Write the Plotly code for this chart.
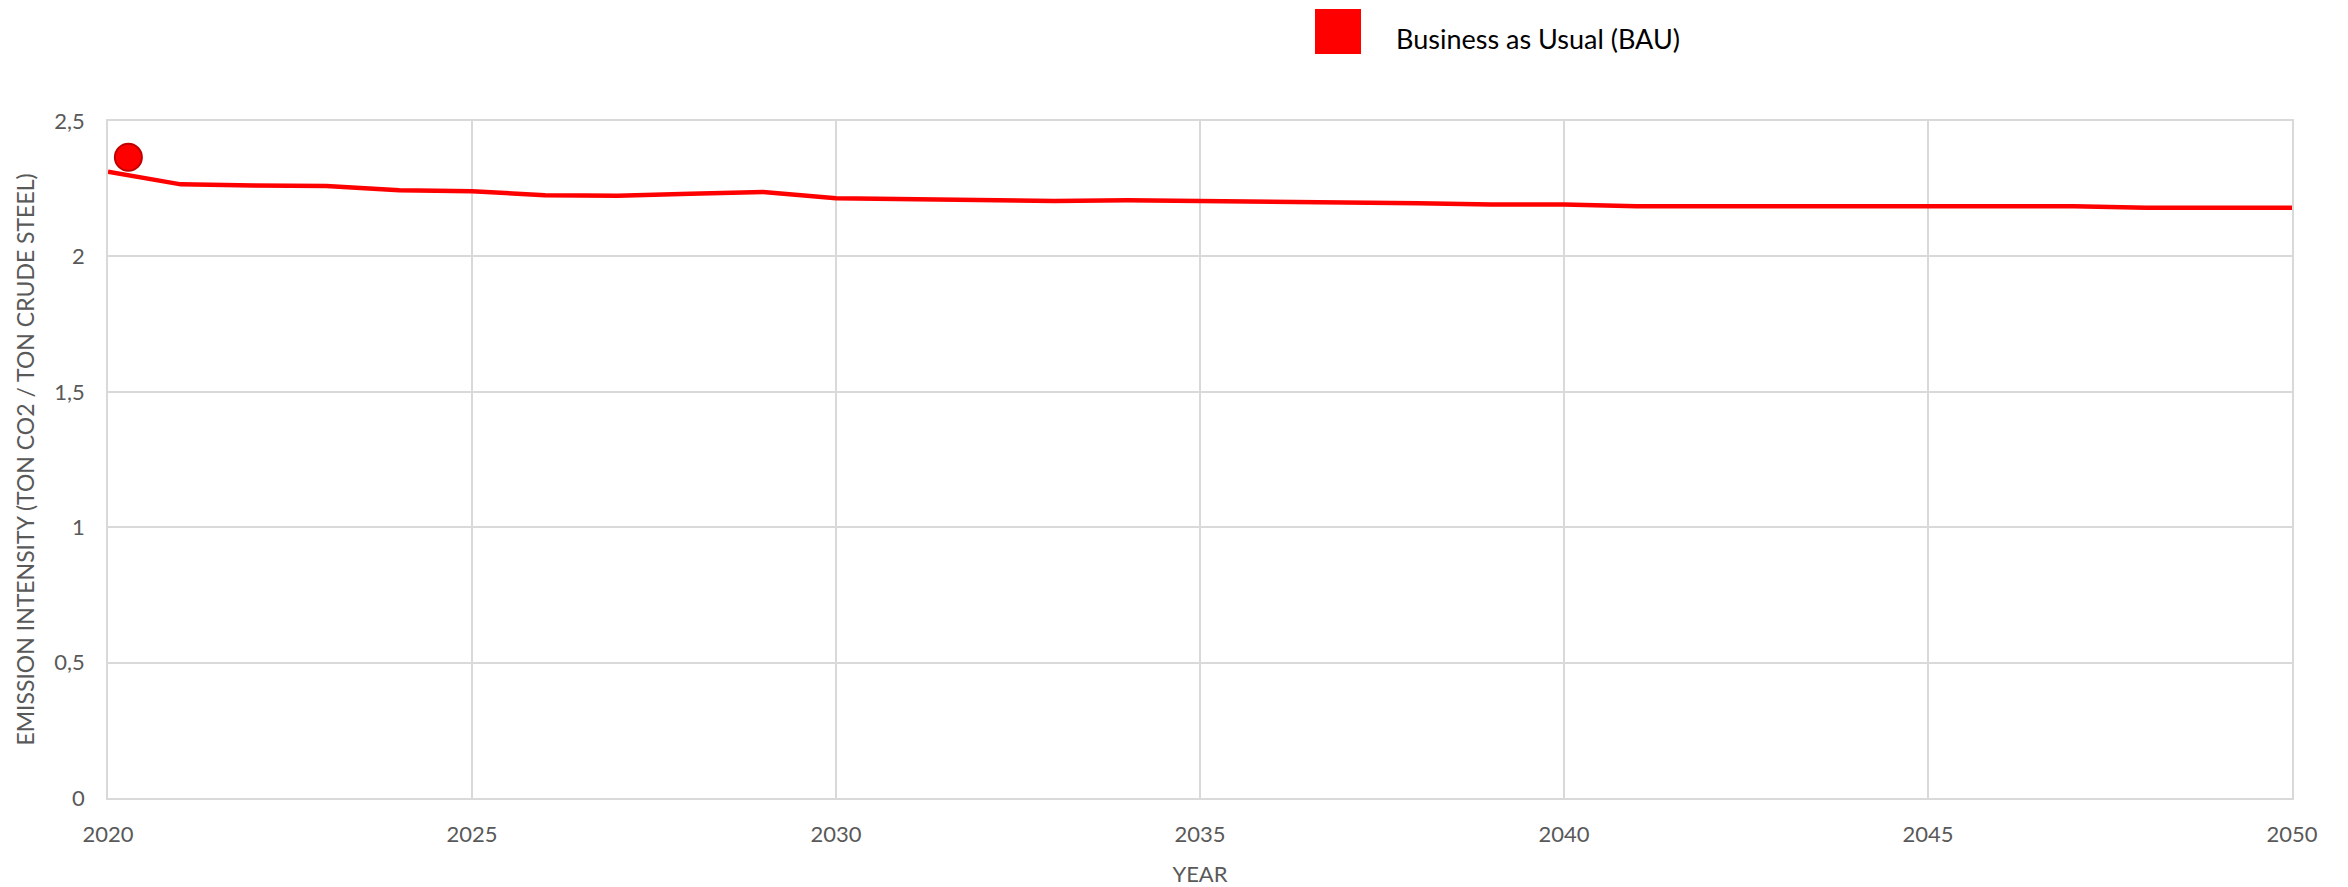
import plotly.graph_objects as go

years = list(range(2020, 2051))
bau = [2.313, 2.266, 2.262, 2.260, 2.244, 2.241, 2.226, 2.224, 2.231, 2.238,
       2.215, 2.211, 2.205, 2.205, 2.207, 2.205, 2.202, 2.199, 2.196, 2.192,
       2.192, 2.185, 2.185, 2.185, 2.185, 2.185, 2.185, 2.185, 2.180, 2.180, 2.180]
point_x = [2020.28]
point_y = [2.366]
series_name = "Business as Usual (BAU)"
x_title = "YEAR"
y_title = "EMISSION INTENSITY (TON CO2 / TON CRUDE STEEL)"

W, H = 2348, 887
L, R, T, B = 108, 56, 121, 89
pw, ph = W - L - R, H - T - B

def px_x(p):
    return (p - L) / pw

def px_y(p):
    return (H - B - p) / ph

FONT = "Lato, 'Open Sans', sans-serif"
GRID = "#D9D9D9"
TXT = "#595959"

fig = go.Figure()
fig.add_trace(go.Scatter(x=years, y=bau, mode="lines", name=series_name,
                         line=dict(color="#FF0000", width=4.5), showlegend=False))
fig.add_trace(go.Scatter(x=point_x, y=point_y, mode="markers", showlegend=False,
                         marker=dict(color="#FF0000", size=27,
                                     line=dict(color="#C00000", width=2)),
                         cliponaxis=False))

fig.add_shape(type="rect", xref="paper", yref="paper",
              x0=px_x(1315), x1=px_x(1361), y0=px_y(54), y1=px_y(9),
              fillcolor="#FF0000", line=dict(width=0))
fig.add_annotation(text=series_name, xref="paper", yref="paper",
                   x=px_x(1394), y=px_y(38), xanchor="left", yanchor="middle",
                   showarrow=False, font=dict(family=FONT, size=27, color="#000000"))

fig.update_layout(
    width=W, height=H,
    margin=dict(l=L, r=R, t=T, b=B, autoexpand=False),
    paper_bgcolor="white", plot_bgcolor="white",
    separators=",.",
    font=dict(family=FONT, color=TXT, size=22),
    showlegend=False,
)
fig.update_xaxes(range=[2020, 2050], tick0=2020, dtick=5, showgrid=True,
                 gridcolor=GRID, gridwidth=1.5, showline=True, linecolor=GRID,
                 linewidth=1.5, mirror=True, zeroline=False,
                 ticks="", ticklabelstandoff=16,
                 tickfont=dict(family=FONT, size=22, color=TXT),
                 title=dict(text=x_title, standoff=22,
                            font=dict(family=FONT, size=22, color=TXT)))
fig.update_yaxes(range=[0, 2.5], tick0=0, dtick=0.5, showgrid=True,
                 gridcolor=GRID, gridwidth=1.5, showline=True, linecolor=GRID,
                 linewidth=1.5, mirror=True, zeroline=False,
                 ticks="", ticklabelstandoff=17,
                 tickfont=dict(family=FONT, size=22, color=TXT),
                 title=dict(text=y_title, standoff=13,
                            font=dict(family=FONT, size=23, color=TXT)))

fig.write_html("out.html")
